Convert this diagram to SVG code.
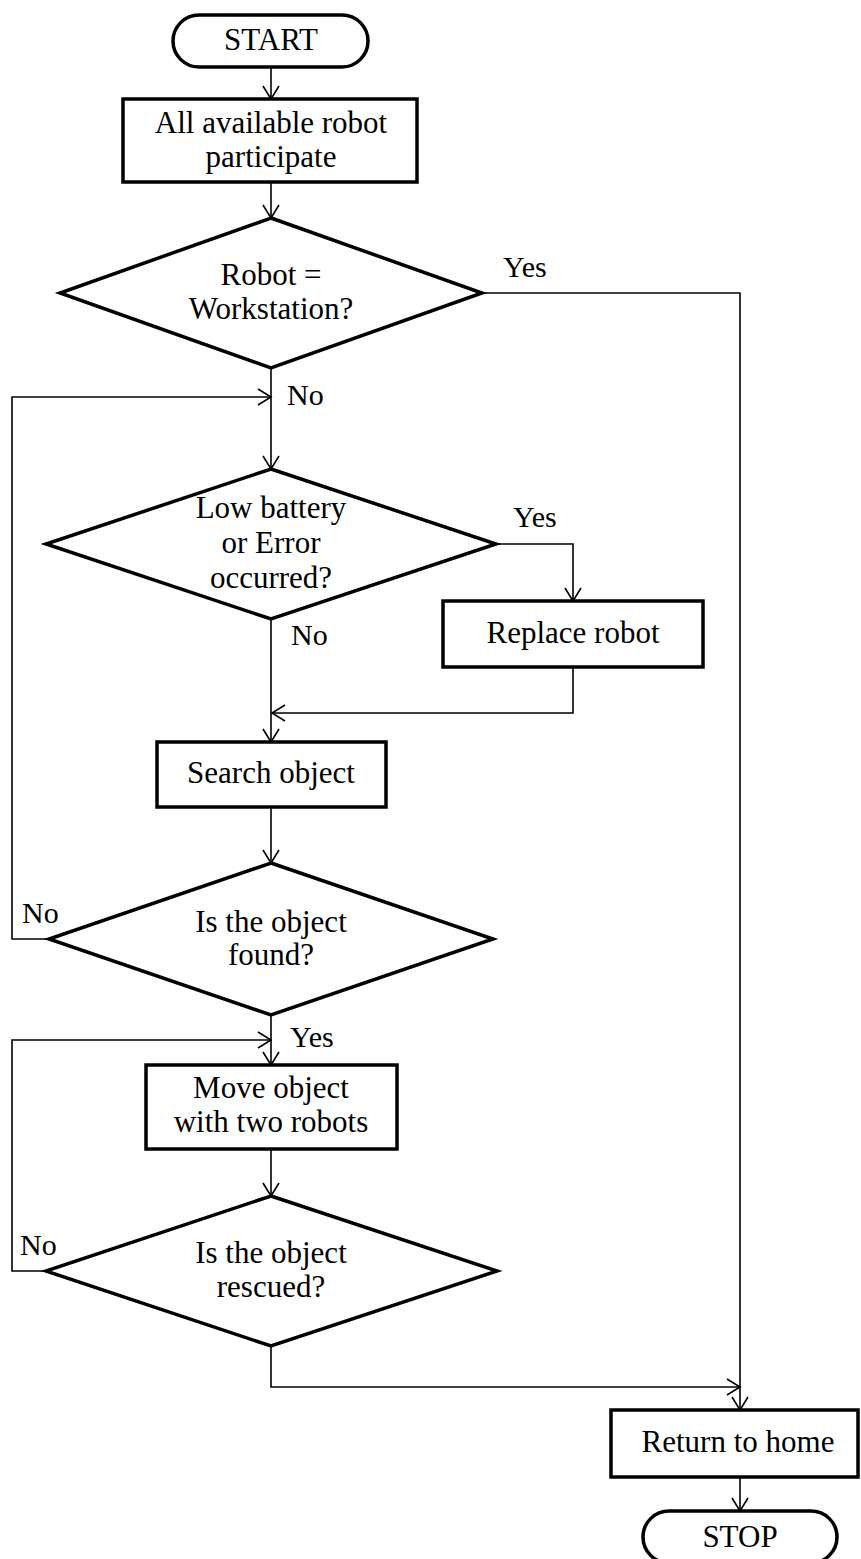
<svg xmlns="http://www.w3.org/2000/svg" width="861" height="1559" viewBox="0 0 861 1559">
<defs>
<style>
.node{fill:#fff;stroke:#000;stroke-width:3.5;stroke-linejoin:miter}
.term{fill:#fff;stroke:#000;stroke-width:3.5}
.t{font-family:"Liberation Serif","Times New Roman",serif;font-size:31px;fill:#000;text-anchor:middle}
.lbl{font-family:"Liberation Serif","Times New Roman",serif;font-size:30px;fill:#000}
.c{fill:none;stroke:#000;stroke-width:1.6}
.ca{fill:none;stroke:#000;stroke-width:1.6;marker-end:url(#ah)}
</style>
<marker id="ah" markerUnits="userSpaceOnUse" markerWidth="18" markerHeight="20" refX="15" refY="10" orient="auto" viewBox="0 0 18 20">
<path d="M2,2 L15,10 L2,18" fill="none" stroke="#000" stroke-width="1.6"/>
</marker>
</defs>
<rect width="861" height="1559" fill="#fff"/>
<g id="connectors">
<path class="ca" d="M271,67 L271,99"/>
<path class="ca" d="M271,182 L271,218"/>
<path class="ca" d="M482,293 L740,293 L740,1410"/>
<path class="ca" d="M271,368 L271,469"/>
<path class="ca" d="M49,939 L12,939 L12,397 L271,397"/>
<path class="ca" d="M496,544 L573,544 L573,601"/>
<path class="ca" d="M573,667 L573,713 L272,713"/>
<path class="ca" d="M271,619 L271,742"/>
<path class="ca" d="M271,807 L271,863"/>
<path class="ca" d="M271,1015 L271,1065"/>
<path class="ca" d="M46,1271 L12,1271 L12,1040 L271,1040"/>
<path class="ca" d="M271,1149 L271,1196"/>
<path class="ca" d="M271,1346 L271,1387 L740,1387"/>
<path class="ca" d="M740,1477 L740,1511"/>
<text class="lbl" x="503" y="277">Yes</text>
<text class="lbl" x="287" y="405">No</text>
<text class="lbl" x="513" y="527">Yes</text>
<text class="lbl" x="291" y="645">No</text>
<text class="lbl" x="22" y="923">No</text>
<text class="lbl" x="290" y="1047">Yes</text>
<text class="lbl" x="20" y="1255">No</text>
</g>
<g id="start">
<rect class="term" x="173" y="15" width="195" height="52" rx="26" ry="26"/>
<text class="t" x="271" y="50">START</text>
</g>
<g id="participate">
<rect class="node" x="123" y="99" width="294" height="83"/>
<text class="t" x="271" y="133">All available robot</text>
<text class="t" x="271" y="167">participate</text>
</g>
<g id="workstation">
<polygon class="node" points="271,218 482,293 271,368 60,293"/>
<text class="t" x="271" y="285">Robot =</text>
<text class="t" x="271" y="319">Workstation?</text>
</g>
<g id="battery">
<polygon class="node" points="271,469 496,544 271,619 46,544"/>
<text class="t" x="271" y="518">Low battery</text>
<text class="t" x="271" y="553">or Error</text>
<text class="t" x="271" y="588">occurred?</text>
</g>
<g id="replace">
<rect class="node" x="443" y="601" width="260" height="66"/>
<text class="t" x="573" y="643">Replace robot</text>
</g>
<g id="search">
<rect class="node" x="157" y="742" width="229" height="65"/>
<text class="t" x="271" y="783">Search object</text>
</g>
<g id="found">
<polygon class="node" points="271,863 493,939 271,1015 49,939"/>
<text class="t" x="271" y="932">Is the object</text>
<text class="t" x="271" y="965">found?</text>
</g>
<g id="move">
<rect class="node" x="146" y="1065" width="251" height="84"/>
<text class="t" x="271" y="1098">Move object</text>
<text class="t" x="271" y="1132">with two robots</text>
</g>
<g id="rescued">
<polygon class="node" points="271,1196 497,1271 271,1346 46,1271"/>
<text class="t" x="271" y="1263">Is the object</text>
<text class="t" x="271" y="1297">rescued?</text>
</g>
<g id="home">
<rect class="node" x="611" y="1410" width="247" height="67"/>
<text class="t" x="738" y="1452">Return to home</text>
</g>
<g id="stop">
<rect class="term" x="643" y="1511" width="194" height="52" rx="26" ry="26"/>
<text class="t" x="740" y="1547">STOP</text>
</g>
</svg>
